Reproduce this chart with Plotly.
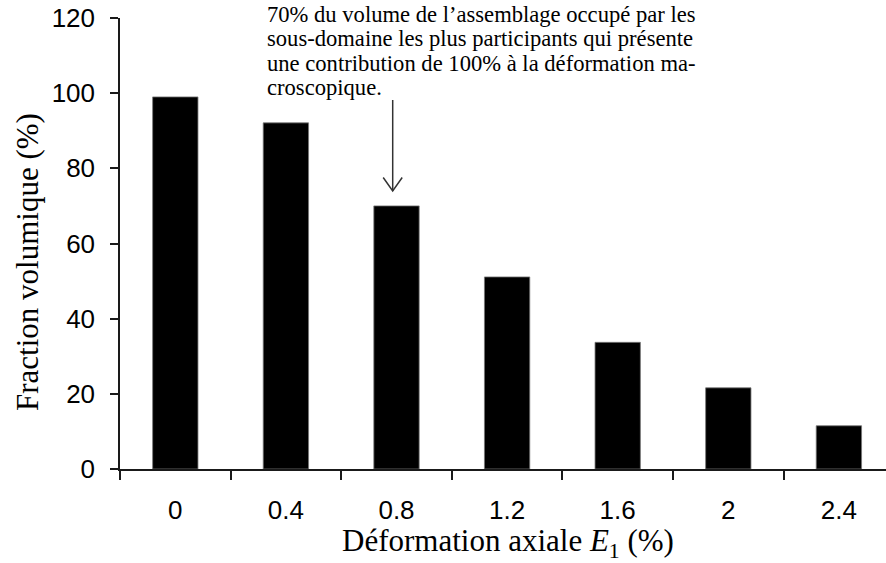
import plotly.graph_objects as go

# Data
strain_labels = ["0", "0.4", "0.8", "1.2", "1.6", "2", "2.4"]
volume_fraction = [99.0, 92.1, 70.0, 51.1, 33.7, 21.6, 11.5]
y_ticks = [0, 20, 40, 60, 80, 100, 120]

note_lines = [
    "70% du volume de l\u2019assemblage occup\u00e9 par les",
    "sous-domaine les plus participants qui pr\u00e9sente",
    "une contribution de 100% \u00e0 la d\u00e9formation ma-",
    "croscopique.",
]

W, H = 886, 563
ML, MR, MT, MB = 120, 0, 18, 94
PW, PH = W - ML - MR, H - MT - MB


def px_x(px):
    return (px - ML) / PW


def px_y(py):
    return (H - MB - py) / PH


SERIF = "Liberation Serif, Times New Roman, serif"
SANS = "Liberation Sans, Arial, sans-serif"
INK = "#1a1a1a"

fig = go.Figure(
    go.Bar(
        x=strain_labels,
        y=volume_fraction,
        marker=dict(color="black", line=dict(color="#777777", width=0.8)),
    )
)

fig.update_layout(
    width=W,
    height=H,
    margin=dict(l=ML, r=MR, t=MT, b=MB),
    paper_bgcolor="white",
    plot_bgcolor="white",
    showlegend=False,
    bargap=0.59,
)

fig.update_xaxes(
    type="category",
    range=[-0.5, -0.5 + PW / 110.6],
    showline=True,
    linecolor=INK,
    linewidth=1.5,
    ticks="outside",
    tickson="boundaries",
    ticklen=9,
    tickwidth=1.5,
    tickcolor=INK,
    showgrid=False,
    ticklabelstandoff=17,
    tickfont=dict(family=SANS, size=26, color="black"),
)

fig.update_yaxes(
    range=[0, 120],
    tickvals=y_ticks,
    showline=True,
    linecolor=INK,
    linewidth=1.5,
    ticks="outside",
    ticklen=8,
    tickwidth=1.5,
    tickcolor=INK,
    showgrid=False,
    zeroline=False,
    ticklabelstandoff=10,
    tickfont=dict(family=SANS, size=26, color="black"),
)

# Axis titles
fig.add_annotation(
    text="D\u00e9formation axiale <i>E</i><sub>1</sub> (%)",
    xref="paper", yref="paper",
    x=px_x(508), y=px_y(543),
    xanchor="center", yanchor="middle",
    showarrow=False,
    font=dict(family=SERIF, size=31, color="black"),
)
fig.add_annotation(
    text="Fraction volumique (%)",
    xref="paper", yref="paper",
    x=px_x(27), y=px_y(262),
    xanchor="center", yanchor="middle",
    textangle=-90,
    showarrow=False,
    font=dict(family=SERIF, size=31, color="black"),
)

# Explanatory note, one line at a time
for i, line in enumerate(note_lines):
    fig.add_annotation(
        text=line,
        xref="paper", yref="paper",
        x=px_x(265), y=px_y(14 + 24.6 * i),
        xanchor="left", yanchor="middle",
        showarrow=False,
        font=dict(family=SERIF, size=22.6, color="black"),
    )

# Arrow pointing at the 0.8 bar (open V head)
arrow_x, arrow_top, arrow_tip = 392.7, 100, 191
fig.add_shape(
    type="line", xref="paper", yref="paper",
    x0=px_x(arrow_x), x1=px_x(arrow_x), y0=px_y(arrow_top), y1=px_y(arrow_tip),
    line=dict(color="#333333", width=1.5),
)
fig.add_shape(
    type="path", xref="paper", yref="paper",
    path=(
        f"M {px_x(arrow_x - 9.5)} {px_y(arrow_tip - 13.5)} "
        f"L {px_x(arrow_x)} {px_y(arrow_tip)} "
        f"L {px_x(arrow_x + 9.5)} {px_y(arrow_tip - 13.5)}"
    ),
    line=dict(color="#333333", width=1.5),
)

fig.write_html("out.html")
